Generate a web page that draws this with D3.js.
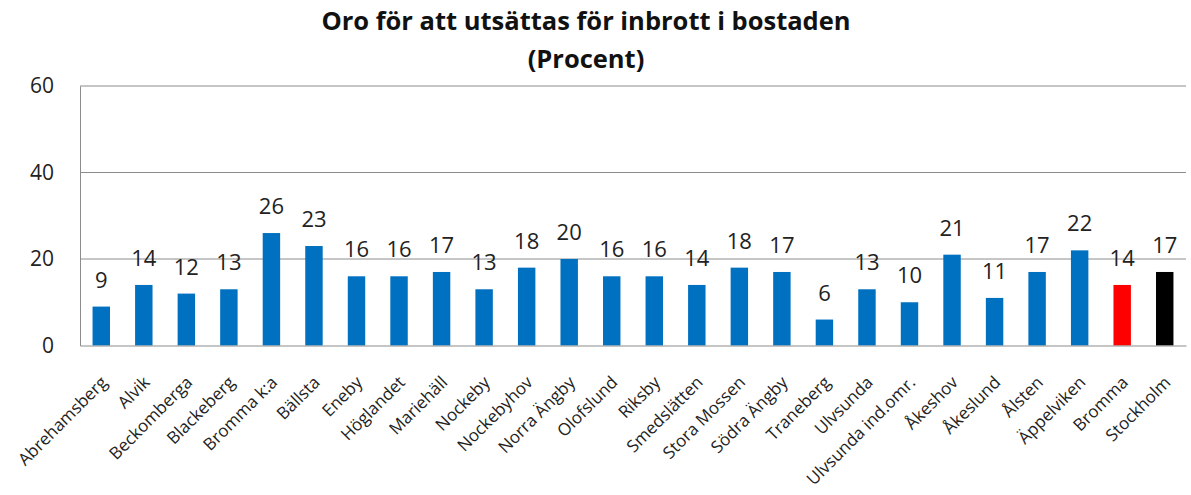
<!DOCTYPE html>
<html>
<head>
<meta charset="utf-8">
<script src="https://cdn.jsdelivr.net/npm/d3@7"></script>
<style>
  body { margin: 0; background: #fff; }
  svg { display: block; font-family: "Open Sans", "Noto Sans", sans-serif; }
</style>
</head>
<body>
<div id="grafico"></div>
<script>
const categories = ["Abrehamsberg", "Alvik", "Beckomberga", "Blackeberg", "Bromma k:a", "Bällsta",
    "Eneby", "Höglandet", "Mariehäll", "Nockeby", "Nockebyhov", "Norra Ängby", "Olofslund",
    "Riksby", "Smedslätten", "Stora Mossen", "Södra Ängby", "Traneberg", "Ulvsunda",
    "Ulvsunda ind.omr.", "Åkeshov", "Åkeslund", "Ålsten", "Äppelviken", "Bromma", "Stockholm"];
const values = [9, 14, 12, 13, 26, 23, 16, 16, 17, 13, 18, 20, 16, 16, 14, 18, 17, 6, 13, 10, 21, 11, 17, 22, 14, 17];
const yTicks = [0, 20, 40, 60];
const titleLines = ["Oro för att utsättas för inbrott i bostaden", "(Procent)"];

const width = 1191;
const height = 495;
const plotLeft = 80, plotRight = 1186, plotTop = 86, plotBottom = 345.5;
const fontFam = "'Open Sans', 'Noto Sans', sans-serif";

const svg = d3.select("#grafico").append("svg")
    .attr("width", width)
    .attr("height", height);

// escalas
const xScale = d3.scaleBand()
    .domain(categories)
    .range([plotLeft, plotRight])
    .paddingInner(0.59)
    .paddingOuter(0.295);

const yScale = d3.scaleLinear()
    .domain([0, 60])
    .range([plotBottom, plotTop]);

// lineas de la grilla
svg.append("g")
    .selectAll("line")
    .data(yTicks.filter(d => d > 0))
    .enter()
    .append("line")
    .attr("x1", plotLeft)
    .attr("x2", plotRight)
    .attr("y1", d => yScale(d))
    .attr("y2", d => yScale(d))
    .attr("stroke", "#8c8c8c")
    .attr("stroke-width", 1);

// eje y
const yAxis = d3.axisLeft(yScale).tickValues(yTicks).tickSize(0).tickPadding(26);
svg.append("g")
    .attr("transform", `translate(${plotLeft}, 0)`)
    .call(yAxis)
    .call(g => g.select(".domain").attr("stroke", "#8c8c8c"))
    .selectAll("text")
    .attr("font-size", 21)
    .attr("font-family", fontFam)
    .attr("fill", "#222");

// barras
const colorFor = (d) => d === "Bromma" ? "#ff0000" : d === "Stockholm" ? "#000000" : "#0070c0";
svg.selectAll("rect.bar")
    .data(categories)
    .enter()
    .append("rect")
    .attr("class", "bar")
    .attr("x", d => xScale(d))
    .attr("y", (d, i) => yScale(values[i]))
    .attr("width", xScale.bandwidth())
    .attr("height", (d, i) => plotBottom - yScale(values[i]))
    .attr("fill", d => colorFor(d));

// etiquetas de valores
svg.selectAll("text.val")
    .data(categories)
    .enter()
    .append("text")
    .attr("class", "val")
    .attr("x", d => xScale(d) + xScale.bandwidth() / 2)
    .attr("y", (d, i) => yScale(values[i]) - 19)
    .attr("text-anchor", "middle")
    .attr("font-size", 22)
    .attr("fill", "#222")
    .text((d, i) => values[i]);

// eje x
const xAxis = d3.axisBottom(xScale).tickSize(0).tickPadding(0);
svg.append("g")
    .attr("transform", `translate(0, ${plotBottom})`)
    .call(xAxis)
    .call(g => g.select(".domain").attr("stroke", "#8c8c8c"))
    .selectAll("text")
    .attr("font-size", 17)
    .attr("font-family", fontFam)
    .attr("fill", "#222")
    .attr("text-anchor", "end")
    .attr("y", 0)
    .attr("dy", 0)
    .attr("transform", "translate(7, 38) rotate(-45)");

// titulo
svg.append("g")
    .selectAll("text")
    .data(titleLines)
    .enter()
    .append("text")
    .attr("x", 586)
    .attr("y", (d, i) => 30 + i * 38)
    .attr("text-anchor", "middle")
    .attr("font-size", 25.5)
    .attr("font-weight", "bold")
    .attr("fill", "#111")
    .text(d => d);
</script>
</body>
</html>
